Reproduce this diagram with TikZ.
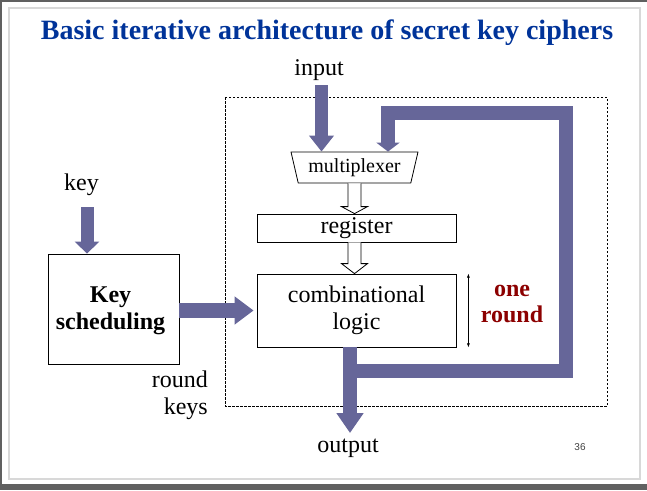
\documentclass[tikz,border=0pt]{standalone}
\usepackage{fontspec}
\setmainfont{Liberation Serif}
\newfontfamily\numfont{Liberation Sans}
\usetikzlibrary{arrows.meta,shapes.geometric,calc}

\definecolor{titleblue}{RGB}{0,51,153}
\definecolor{flow}{RGB}{102,102,153}
\definecolor{roundred}{RGB}{140,0,0}
\definecolor{framegray}{RGB}{96,96,96}
\definecolor{edgegray}{RGB}{216,216,216}

\tikzset{
  every node/.style={font=\fontsize{24}{27}\selectfont},
  txt/.style={inner sep=0pt},
  box/.style={draw, line width=0.8pt, inner sep=0pt, align=center},
  mux/.style={draw, line width=0.8pt, trapezium, trapezium stretches=true,
    trapezium angle=72, shape border rotate=180, minimum width=127pt,
    minimum height=31pt, inner sep=0pt, font=\fontsize{20}{22}\selectfont},
  flowline/.style={draw=flow, line width=14pt},
  hollow/.style={draw=black, fill=white, line width=0.8pt, line join=miter},
  framebox/.style={draw, line width=0.7pt, dash pattern=on 2.5pt off 1.5pt},
}

% open block arrow: start point, tip point, head length
\newcommand\hollowarrow[3]{%
  \draw[hollow] let \p1=(#1), \p2=(#2) in
    (\x1-6.5pt,\y1) -- (\x1-6.5pt,\y2+#3) -- (\x1-13pt,\y2+#3) -- (\x1,\y2)
    -- (\x1+13pt,\y2+#3) -- (\x1+6.5pt,\y2+#3) -- (\x1+6.5pt,\y1);}

\begin{document}
\begin{tikzpicture}[x=1pt,y=-1pt]
\useasboundingbox (0,0) rectangle (647,490);

% slide frame
\fill[framegray] (0,0) rectangle (2,490);
\fill[framegray] (0,0) rectangle (647,1.5);
\fill[framegray] (0,484) rectangle (647,490);
\draw[edgegray, line width=1.5pt] (9,8) rectangle (640,479);

% title
\node[txt, anchor=base, text=titleblue, font=\bfseries\fontsize{28}{32}\selectfont]
  (title) at (327,39.5) {Basic iterative architecture of secret key ciphers};

% one round of the datapath
\draw[framebox] (225,97) rectangle (607,406);

\node[mux] (mux) at (354.5,167.5) {multiplexer};
\node[box, minimum width=199pt, minimum height=28pt] (reg) at (356.5,228) {register};
\node[box, minimum width=199pt, minimum height=73pt] (comb) at (356.5,310.5) {combinational\\logic};
\node[box, minimum width=131pt, minimum height=110pt] (ks) at (113.5,309) {};
\node[txt, align=center, font=\bfseries\fontsize{24}{27}\selectfont]
  (kstext) at (110.5,311) {Key\\scheduling};

\node[txt, anchor=base] (input) at (319,75) {input};
\node[txt, anchor=base] (key) at (81.5,190) {key};
\node[txt, anchor=base] (output) at (348,452) {output};
\node[txt, anchor=east, align=right] (rk) at (208,395) {round\\keys};
\node[txt, align=center, text=roundred, font=\bfseries\fontsize{24}{26}\selectfont]
  (oneround) at (512,304) {one\\round};
\node[txt, font=\numfont\fontsize{10}{12}\selectfont, text=black!75] (pg) at (580,447) {36};

% data flow
\coordinate (inA) at (321.5,85);
\coordinate (keyA) at (87,207);
\coordinate (split) at (350,371);
\coordinate (loopA) at (566,113);
\coordinate (outTip) at (350,433);

\draw[flowline, line width=12.5pt, -{Triangle[width=24pt,length=16pt]}] (inA) -- (inA |- mux.north);
\draw[flowline, line width=13pt, -{Triangle[width=24pt,length=12pt]}] (keyA) -- (keyA |- ks.north);
\draw[flowline, line width=15pt, -{Triangle[width=27pt,length=19pt]}]
  (ks.east |- comb.west) -- ([xshift=-3pt]comb.west);
\draw[flowline, -{Triangle[width=26pt,length=20pt]}] (comb.south -| split) -- (outTip);
\draw[flowline, line join=miter, -{Triangle[width=23pt,length=9pt]}]
  (split) -| (loopA) -| ([xshift=33.5pt]mux.north);

\hollowarrow{mux.south}{reg.north -| mux.south}{7pt}
\hollowarrow{reg.south -| mux.south}{comb.north -| mux.south}{10pt}

% extent of one round
\draw[line width=0.6pt, {Latex[length=4pt,width=3pt]}-{Latex[length=4pt,width=3pt]}]
  ([xshift=12pt]comb.north east) -- ([xshift=12pt]comb.south east);

\end{tikzpicture}
\end{document}
